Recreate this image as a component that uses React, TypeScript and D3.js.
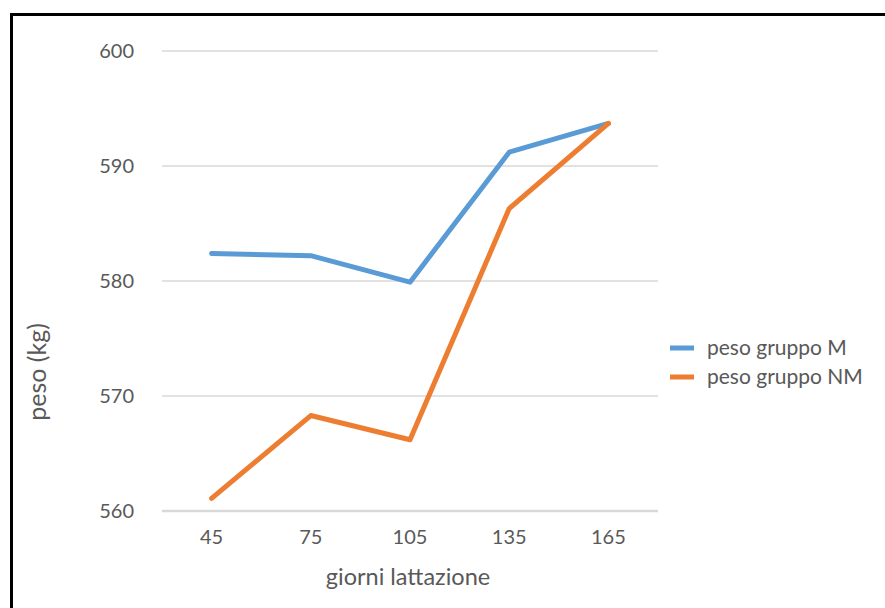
import React from "react";
import * as d3 from "d3";

const categories = ["45", "75", "105", "135", "165"];
const seriesM = [582.4, 582.2, 579.9, 591.2, 593.7];
const seriesNM = [561.1, 568.3, 566.2, 586.3, 593.7];
const yTicks = [560, 570, 580, 590, 600];
const seriesNames = ["peso gruppo M", "peso gruppo NM"];
const colors = ["#5B9BD5", "#ED7D31"];

export default function App() {
  const W = 885, H = 608;
  const left = 162, right = 658, top = 51, bottom = 511;
  const x = d3.scaleBand().domain(categories).range([left, right]);
  const y = d3.scaleLinear().domain([560, 600]).range([bottom, top]);
  const line = d3
    .line<number>()
    .x((_, i) => (x(categories[i]) as number) + x.bandwidth() / 2)
    .y((d) => y(d));
  const font = "Lato, 'Open Sans', sans-serif";
  const txt = "#595959";
  return (
    <svg
      width={W}
      height={H}
      style={{ position: "absolute", left: 0, top: 0, background: "#fff" }}
    >
      <rect x={0} y={0} width={W} height={H} fill="#fff" />
      <rect x={11.5} y={14.5} width={W + 20} height={H + 20} fill="none" stroke="#000" strokeWidth={3} />
      {yTicks.map((t) => (
        <g key={t}>
          <line x1={left} x2={right} y1={y(t)} y2={y(t)} stroke="#D9D9D9" strokeWidth={t === 560 ? 2.5 : 1.5} />
          <text x={134} y={y(t)} dy="0.35em" textAnchor="end" fontFamily={font} fontSize={20} fill={txt}>
            {t}
          </text>
        </g>
      ))}
      {categories.map((c) => (
        <text key={c} x={(x(c) as number) + x.bandwidth() / 2} y={544} textAnchor="middle" fontFamily={font} fontSize={20} fill={txt}>
          {c}
        </text>
      ))}
      <text x={408} y={585} textAnchor="middle" fontFamily={font} fontSize={23.5} fill={txt}>
        giorni lattazione
      </text>
      <text transform="translate(46,372) rotate(-90)" textAnchor="middle" fontFamily={font} fontSize={25} fill={txt}>
        peso (kg)
      </text>
      {[seriesM, seriesNM].map((s, i) => (
        <path key={i} d={line(s) as string} fill="none" stroke={colors[i]} strokeWidth={5} strokeLinecap="round" strokeLinejoin="round" />
      ))}
      {seriesNames.map((n, i) => (
        <g key={n}>
          <line x1={670} x2={694} y1={348 + i * 29} y2={348 + i * 29} stroke={colors[i]} strokeWidth={5} />
          <text x={707} y={348 + i * 29} dy="0.35em" fontFamily={font} fontSize={21} fill={txt}>
            {n}
          </text>
        </g>
      ))}
    </svg>
  );
}
